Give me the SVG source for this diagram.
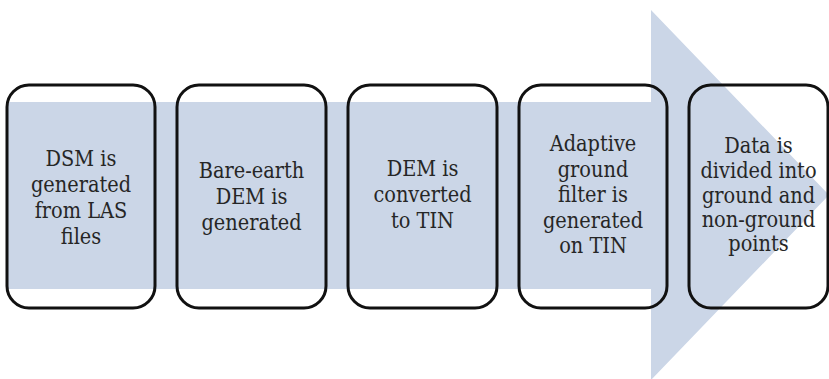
<svg xmlns="http://www.w3.org/2000/svg" width="829" height="379" viewBox="0 0 829 379">
  <style>
    .step { fill: none; stroke: #111111; stroke-width: 3; }
    .label { font-family: "DejaVu Serif Condensed", "DejaVu Serif", serif; font-stretch: condensed; font-size: 21.5px; fill: #262626; text-anchor: middle; }
  </style>
  <rect width="829" height="379" fill="#ffffff"/>

  <!-- background process arrow -->
  <g id="flow-arrow">
    <polygon points="7,102 651,102 651,10 829,195 651,380 651,289 7,289" fill="#cbd6e7"/>
  </g>

  <g id="step1">
    <rect class="step" x="7" y="85" width="148" height="223" rx="22"/>
    <text class="label" x="81" y="166">DSM is</text>
    <text class="label" x="81" y="192">generated</text>
    <text class="label" x="81" y="218">from LAS</text>
    <text class="label" x="81" y="244">files</text>
  </g>

  <g id="step2">
    <rect class="step" x="177" y="85" width="149" height="223" rx="22"/>
    <text class="label" x="251.5" y="178">Bare-earth</text>
    <text class="label" x="251.5" y="204">DEM is</text>
    <text class="label" x="251.5" y="230">generated</text>
  </g>

  <g id="step3">
    <rect class="step" x="348" y="85" width="149" height="223" rx="22"/>
    <text class="label" x="422.5" y="176">DEM is</text>
    <text class="label" x="422.5" y="202">converted</text>
    <text class="label" x="422.5" y="228">to TIN</text>
  </g>

  <g id="step4">
    <rect class="step" x="519" y="85" width="148" height="223" rx="22"/>
    <text class="label" x="593" y="151">Adaptive</text>
    <text class="label" x="593" y="176.5">ground</text>
    <text class="label" x="593" y="202">filter is</text>
    <text class="label" x="593" y="227.5">generated</text>
    <text class="label" x="593" y="253">on TIN</text>
  </g>

  <g id="step5">
    <rect class="step" x="689" y="85" width="139" height="223" rx="22"/>
    <text class="label" x="758.5" y="153">Data is</text>
    <text class="label" x="758.5" y="178">divided into</text>
    <text class="label" x="758.5" y="202.5">ground and</text>
    <text class="label" x="758.5" y="227">non-ground</text>
    <text class="label" x="758.5" y="251">points</text>
  </g>

  <g id="connectors"></g>
</svg>
